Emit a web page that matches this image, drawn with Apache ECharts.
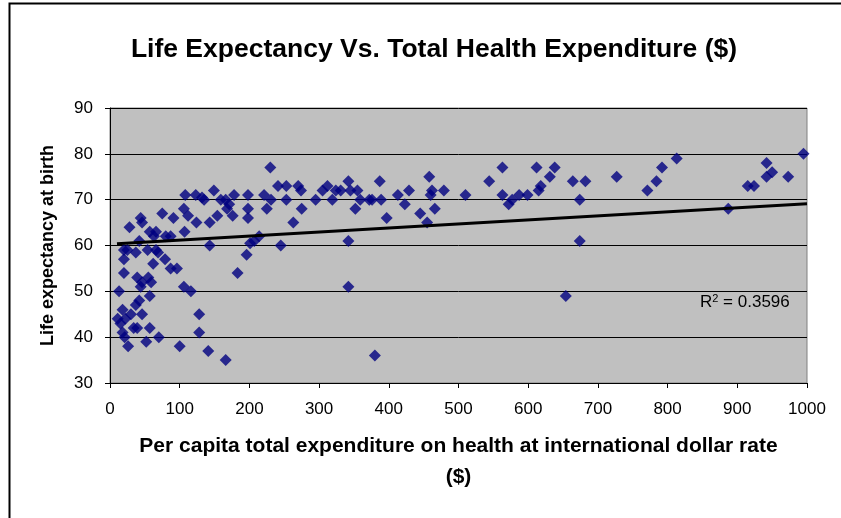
<!DOCTYPE html>
<html>
<head>
<meta charset="utf-8">
<script src="https://cdn.jsdelivr.net/npm/echarts@6/dist/echarts.min.js"></script>
<style>
  html, body { margin: 0; padding: 0; background: #fff; }
  #main { width: 841px; height: 518px; }
</style>
</head>
<body>
<div id="main"></div>
<script>
// 人均卫生支出 (x) 与 预期寿命 (y)
var spend = [
  149, 108, 123, 132, 135, 159, 166, 171, 106, 112, 75, 91, 44, 46, 28, 154, 124, 143,
  57, 66, 63, 80, 87, 107, 42, 143, 20, 25, 37, 54, 66, 69, 20, 62, 79, 20, 87, 96,
  39, 55, 46, 59, 44, 13, 106, 116, 42, 37, 57, 18, 30, 46, 22, 11, 15, 34, 39, 18,
  57, 128, 128, 21, 70, 26, 52, 100, 141, 166,
  230, 178, 168, 176, 198, 198, 198, 221, 231, 225, 241, 253, 253, 270, 274, 275, 263,
  245, 214, 207, 201, 196, 183, 295, 305, 312, 319, 324, 331, 342, 345, 355, 359, 352,
  342, 342, 372, 380,
  376, 387, 389, 397, 413, 423, 429, 445, 455, 458, 462, 460, 466, 479, 510, 544, 563,
  563, 572, 577, 587,
  599, 612, 615, 618, 631, 638, 664, 682, 674, 674, 654, 727, 771, 784, 792,
  813, 887, 915, 924, 942, 942, 950, 973, 995
];
var lifeExp = [
  72, 71, 71, 70.5, 70, 70, 70, 69, 68, 66.5, 67, 66, 66, 65, 64, 66.5, 65, 65,
  63, 63, 62, 62, 62, 63, 61, 60, 59, 59, 58.5, 59, 59, 58.5, 57, 56, 57, 54, 55, 55,
  53, 53, 52, 52, 51, 50, 51, 50, 48, 47, 49, 46, 45, 45, 44, 44, 43, 42, 42, 41,
  42, 45, 41, 40, 40, 38, 39, 38, 37, 35,
  77, 71, 68, 66.5, 71, 68, 66, 71, 70, 68, 73, 73, 70, 73, 72, 68, 65,
  60, 62, 61, 60.5, 58, 54, 70, 72, 73, 70, 72, 72, 74, 72, 72, 70, 68,
  61, 51, 70, 36,
  70, 74, 70, 66, 71, 69, 72, 67, 65, 75, 72, 71, 68, 72, 71, 74, 77,
  71, 69, 70, 71,
  71, 77, 72, 73, 75, 77, 74, 74, 70, 61, 49, 75, 72, 74, 77,
  79, 68, 73, 73, 78, 75, 76, 75, 80
];
// 趋势线两端
var trendX = [10, 1000];
var trendY = [60.4, 69.1];
var xTicks = [0, 1000, 100];   // min, max, interval
var yTicks = [30, 90, 10];

var points = spend.map(function (v, i) { return [v, lifeExp[i]]; });
var trend = trendX.map(function (v, i) { return [v, trendY[i]]; });

var font = 'Liberation Sans, Arial, sans-serif';
var myChart = echarts.init(document.getElementById('main'), null, { renderer: 'canvas' });
myChart.setOption({
  backgroundColor: '#ffffff',
  animation: false,
  title: {
    text: 'Life Expectancy Vs. Total Health Expenditure ($)',
    left: 429, top: 31, textAlign: 'center',
    textStyle: { fontFamily: font, fontWeight: 'bold', fontSize: 26.5, color: '#000' }
  },
  grid: {
    left: 110, right: 34, top: 108, bottom: 135,
    show: true, backgroundColor: '#c0c0c0', borderColor: '#808080', borderWidth: 1
  },
  xAxis: {
    type: 'value',
    min: xTicks[0], max: xTicks[1], interval: xTicks[2],
    name: 'Per capita total expenditure on health at international dollar rate\n($)',
    nameLocation: 'middle', nameGap: 48,
    nameTextStyle: { fontFamily: font, fontWeight: 'bold', fontSize: 21, color: '#000', lineHeight: 31 },
    axisLine: { lineStyle: { color: '#000', width: 1 } },
    axisTick: { inside: false, length: 5, lineStyle: { color: '#000' } },
    axisLabel: {
      fontFamily: font, fontSize: 17, color: '#000', margin: 18,
      formatter: function (v) { return String(v); }
    },
    splitLine: { show: false }
  },
  yAxis: {
    type: 'value',
    min: yTicks[0], max: yTicks[1], interval: yTicks[2],
    name: 'Life expectancy at birth',
    nameLocation: 'middle', nameGap: 53,
    nameTextStyle: { fontFamily: font, fontWeight: 'bold', fontSize: 18, color: '#000' },
    axisLine: { show: true, lineStyle: { color: '#000', width: 1 } },
    axisTick: { show: true, inside: false, length: 5, lineStyle: { color: '#000' } },
    axisLabel: { fontFamily: font, fontSize: 17, color: '#000', margin: 17 },
    splitLine: { show: true, lineStyle: { color: '#000', width: 1 } }
  },
  series: [
    {
      type: 'scatter',
      data: points,
      symbol: 'diamond',
      symbolSize: 12,
      itemStyle: { color: '#000080' },
      z: 3
    },
    {
      type: 'line',
      data: trend,
      symbol: 'none',
      lineStyle: { color: '#000', width: 3 },
      z: 4
    }
  ],
  graphic: [
    {
      type: 'rect', left: 7, top: 1, silent: true,
      shape: { width: 900, height: 600 },
      style: { fill: 'none', stroke: '#000', lineWidth: 2 }
    },
    {
      type: 'text', left: 700, top: 293, z: 10,
      style: {
        text: 'R{sup|2} = 0.3596',
        font: '17px ' + font, fill: '#000',
        rich: { sup: { fontSize: 11, verticalAlign: 'top', padding: [0, 0, 8, 0], fontFamily: font } }
      }
    }
  ]
});
</script>
</body>
</html>
